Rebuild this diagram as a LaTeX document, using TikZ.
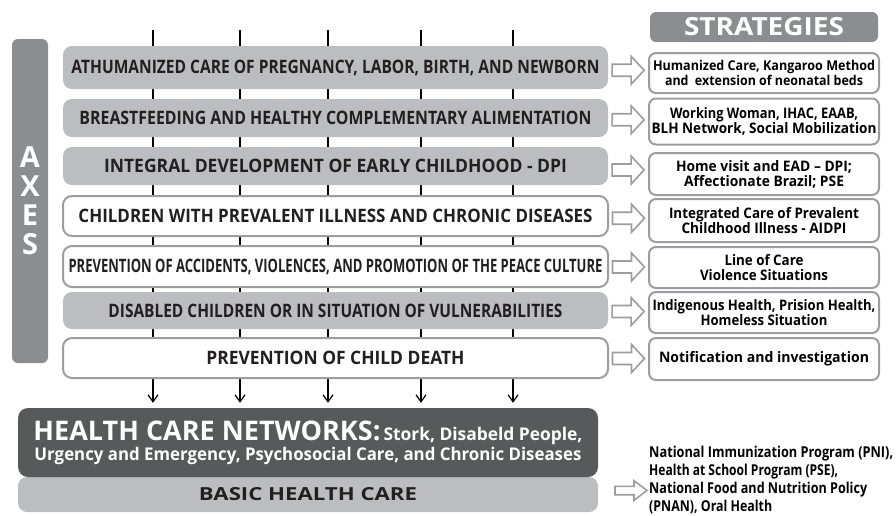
\documentclass[tikz,border=0pt]{standalone}
\usepackage{fontspec}
\setmainfont{Open Sans}
\usetikzlibrary{calc,backgrounds,arrows.meta}
\definecolor{boxgray}{HTML}{BCBDC0}
\definecolor{edgegray}{HTML}{9C9DA0}
\definecolor{midgray}{HTML}{8C8D90}
\definecolor{deepgray}{HTML}{58595B}
\definecolor{ink}{HTML}{231F20}
\newcommand\fw[2]{\resizebox{#1pt}{\height}{#2}}
\begin{document}
\begin{tikzpicture}[x=1pt,y=-1pt,
  axbox/.style={rounded corners=9pt, minimum width=545pt, inner sep=0pt,
    font=\bfseries\fontsize{18.5}{18.5}\selectfont, text=ink},
  axgray/.style={axbox, fill=boxgray},
  axwhite/.style={axbox, fill=white, draw=edgegray, line width=2pt},
  stbox/.style={rounded corners=7pt, draw=edgegray, line width=2pt, fill=white,
    minimum width=230pt, inner sep=0pt, align=center, text=black,
    font=\bfseries\fontsize{14.5}{15}\selectfont},
  headbox/.style={rounded corners=6pt, fill=midgray, text=white, inner sep=0pt},
  vline/.style={line width=1.5pt, black},
  harrow/.pic={\draw[line width=1.6pt, draw=edgegray, fill=white, line join=miter]
    (-16,-6)--(3,-6)--(3,-14)--(16,0)--(3,14)--(3,6)--(-16,6)--cycle;}
]
\useasboundingbox (0,0) rectangle (896,515);

% axes bar and header
\node[headbox, minimum width=36pt, minimum height=324pt, align=center,
  font=\bfseries\fontsize{29}{29}\selectfont] (axes) at (30,201) {A\\X\\E\\S};
\node[headbox, minimum width=228pt, minimum height=30pt,
  font=\bfseries\fontsize{25}{25}\selectfont] (head) at (764,27) {\fw{160}{STRATEGIES}};

% axis boxes
\node[axgray, minimum height=43pt] (ax1) at (335.5,67.5)
  {\fw{528}{ATHUMANIZED CARE OF PREGNANCY, LABOR, BIRTH, AND NEWBORN}};
\node[axgray, minimum height=38pt] (ax2) at (335.5,118)
  {\fw{512}{BREASTFEEDING AND HEALTHY COMPLEMENTARY ALIMENTATION}};
\node[axgray, minimum height=38pt] (ax3) at (335.5,166)
  {\fw{463}{INTEGRAL DEVELOPMENT OF EARLY CHILDHOOD - DPI}};
\node[axwhite, minimum height=40pt] (ax4) at (335.5,216)
  {\fw{514}{CHILDREN WITH PREVALENT ILLNESS AND CHRONIC DISEASES}};
\node[axwhite, minimum height=41pt] (ax5) at (335.5,266.5)
  {\fw{534}{PREVENTION OF ACCIDENTS, VIOLENCES, AND PROMOTION OF THE PEACE CULTURE}};
\node[axgray, minimum height=37pt] (ax6) at (335.5,310.5)
  {\fw{454}{DISABLED CHILDREN OR IN SITUATION OF VULNERABILITIES}};
\node[axwhite, minimum height=40pt] (ax7) at (335.5,358)
  {\fw{258}{PREVENTION OF CHILD DEATH}};

% strategy boxes
\node[stbox, minimum height=40pt, font=\bfseries\fontsize{13.5}{13.5}\selectfont] (st1) at (764,73)
  {\fw{222}{Humanized Care, Kangaroo Method}\\\fw{198}{and~ extension of neonatal beds}};
\node[stbox, minimum height=46pt] (st2) at (764,121.5)
  {\fw{188}{Working Woman, IHAC, EAAB,}\\\fw{225}{BLH Network, Social Mobilization}};
\node[stbox, minimum height=42pt] (st3) at (764,174)
  {\fw{176}{Home visit and EAD – DPI;}\\\fw{160}{Affectionate Brazil; PSE}};
\node[stbox, minimum height=43pt] (st4) at (764,220.5)
  {\fw{190}{Integrated Care of Prevalent}\\\fw{165}{Childhood Illness - AIDPI}};
\node[stbox, minimum height=41pt] (st5) at (764,267.5)
  {\fw{79}{Line of Care}\\\fw{128}{Violence Situations}};
\node[stbox, minimum height=41pt] (st6) at (764,312.5)
  {\fw{223}{Indigenous Health, Prision Health,}\\\fw{127}{Homeless Situation}};
\node[stbox, minimum height=42pt] (st7) at (764,359)
  {\fw{210}{Notification and investigation}};

% bottom boxes
\node[rounded corners=9pt, fill=boxgray, minimum width=580pt, minimum height=35pt,
  inner sep=0pt, text=ink, font=\bfseries\fontsize{18}{18}\selectfont]
  (basic) at (308,494.5) {\fw{218}{BASIC HEALTH CARE}};
\node[rounded corners=10pt, fill=deepgray, minimum width=580pt, minimum height=69pt,
  inner sep=0pt, text=white, align=center, font=\bfseries\fontsize{17.5}{20}\selectfont]
  (hcn) at (308,442.5)
  {\fw{347}{\fontsize{27}{27}\selectfont HEALTH CARE NETWORKS:}\hspace{3pt}\fw{199}{Stork, Disabeld People,}\\
   \fw{547}{Urgency and Emergency, Psychosocial Care, and Chronic Diseases}};

\node[anchor=north west, inner sep=0pt, align=left, text=black,
  font=\bfseries\fontsize{15}{18}\selectfont] (pol) at (649,446)
  {\fw{244}{National Immunization Program (PNI),}\\
   \fw{189}{Health at School Program (PSE),}\\
   \fw{218}{National Food and Nutrition Policy}\\
   \fw{123}{(PNAN), Oral Health}};

% vertical lines with arrows
\coordinate (t1) at (153,30);
\coordinate (t2) at (240,30);
\coordinate (t3) at (328,30);
\coordinate (t4) at (421,30);
\coordinate (t5) at (513,30);
\begin{scope}[on background layer]
\foreach \t in {t1,t2,t3,t4,t5}
  \draw[vline, -{Straight Barb[length=7pt,width=10pt,line width=1.2pt]}, shorten >=5pt]
    (\t) -- (\t |- hcn.north);
\end{scope}

% hollow arrows
\foreach \i in {1,...,7}
  \pic at ($(ax\i.east)!0.5!(st\i.west)$) {harrow};
\pic[yscale=0.7] at ($(pol.west |- basic.east)+(-18,-4)$) {harrow};
\end{tikzpicture}
\end{document}
